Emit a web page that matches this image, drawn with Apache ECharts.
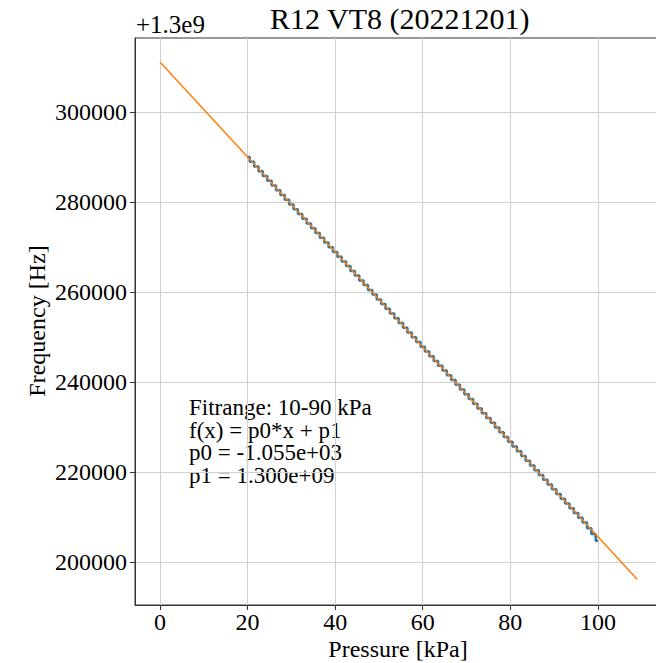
<!DOCTYPE html>
<html>
<head>
<meta charset="utf-8">
<script src="https://cdn.jsdelivr.net/npm/echarts@6/dist/echarts.min.js"></script>
<style>
html,body{margin:0;padding:0;background:#fff;}
#chart{width:656px;height:663px;}
</style>
</head>
<body>
<div id="chart"></div>
<script>
// Offset of frequency axis: +1.3e9
const yOffsetLabel = "+1.3e9";
const titleText = "R12 VT8 (20221201)";
const xName = "Pressure [kPa]";
const yName = "Frequency [Hz]";
const xTicks = [0, 20, 40, 60, 80, 100];
const yTicks = [200000, 220000, 240000, 260000, 280000, 300000];
// measured data (pressure kPa, frequency - 1.3e9 Hz)
const pressure = [20,21,22,23,24,25,26,27,28,29,30,31,32,33,34,35,36,37,38,39,40,41,42,43,44,45,46,47,48,49,50,51,52,53,54,55,56,57,58,59,60,61,62,63,64,65,66,67,68,69,70,71,72,73,74,75,76,77,78,79,80,81,82,83,84,85,86,87,88,89,90,91,92,93,94,95,96,97,98,99,100];
const frequency = [290010,288960,287900,286850,285790,284740,283680,282630,281570,280520,279460,278410,277350,276300,275240,274190,273130,272080,271020,269970,268910,267860,266800,265750,264690,263640,262580,261530,260470,259420,258360,257310,256250,255200,254140,253090,252030,250980,249920,248870,247810,246760,245700,244650,243590,242540,241480,240430,239370,238320,237260,236210,235150,234100,233040,231990,230930,229880,228820,227770,226710,225660,224600,223550,222490,221440,220380,219330,218270,217220,216160,215110,214050,213000,211940,210890,209830,208780,207500,206200,204700];
// fit line endpoints
const fitX = [0, 109];
const fitY = [311111, 196116];
const fitText = ["Fitrange: 10-90 kPa", "f(x) = p0*x + p1", "p0 = -1.055e+03", "p1 = 1.300e+09"];

const font = "Liberation Serif";
const chart = echarts.init(document.getElementById('chart'), null, {renderer: 'svg'});
const dataPts = pressure.map((p, i) => [p, frequency[i]]);
const fitPts = fitX.map((x, i) => [x, fitY[i]]);

chart.setOption({
  animation: false,
  backgroundColor: '#fff',
  grid: {left: 135, top: 38, right: -5, bottom: 58, containLabel: false, outerBoundsMode: 'none', show: true, borderColor: '#333', borderWidth: 1, backgroundColor: 'transparent'},
  xAxis: {
    type: 'value', min: -5.7, max: 114.4,
    axisLine: {show: true, onZero: false, lineStyle: {color: '#333', width: 1}},
    axisTick: {show: true, length: 5, inside: false, customValues: xTicks, lineStyle: {color: '#333'}},
    axisLabel: {customValues: xTicks, fontFamily: font, fontSize: 24, lineHeight: 20, color: '#000', margin: 7, formatter: v => String(v)},
    splitLine: {show: true, lineStyle: {color: '#d0d0d0', width: 1}}
  },
  yAxis: {
    type: 'value', min: 190444, max: 316444,
    axisLine: {show: true, onZero: false, lineStyle: {color: '#333', width: 1}},
    axisTick: {show: true, length: 5, inside: false, customValues: yTicks, lineStyle: {color: '#333'}},
    axisLabel: {customValues: yTicks, fontFamily: font, fontSize: 24, color: '#000', margin: 8, formatter: v => String(v)},
    splitLine: {show: true, lineStyle: {color: '#d0d0d0', width: 1}}
  },
  series: [
    {type: 'line', data: dataPts, step: 'middle', showSymbol: false, lineStyle: {color: '#1f77b4', width: 2.5}, itemStyle: {color: '#1f77b4'}, z: 2},
    {type: 'line', data: fitPts, showSymbol: false, lineStyle: {color: '#ff7f0e', width: 1.5}, itemStyle: {color: '#ff7f0e'}, z: 3}
  ],
  graphic: [
    {type: 'text', left: 270, top: 3, style: {text: titleText, font: "30px 'Liberation Serif'", fill: '#000'}},
    {type: 'text', left: 136, top: 12, style: {text: yOffsetLabel, font: "25px 'Liberation Serif'", fill: '#000'}},
    {type: 'text', x: 398, y: 649, style: {text: xName, font: "24px 'Liberation Serif'", fill: '#000', align: 'center', verticalAlign: 'middle', lineHeight: 22}},
    {type: 'text', x: 37, y: 321, rotation: Math.PI / 2, style: {text: yName, font: "24px 'Liberation Serif'", fill: '#000', align: 'center', verticalAlign: 'middle'}},
    {type: 'text', left: 189, top: 396, style: {text: fitText.join('\n'), font: "23px 'Liberation Serif'", fill: '#000', lineHeight: 22.6}}
  ]
});
</script>
</body>
</html>
